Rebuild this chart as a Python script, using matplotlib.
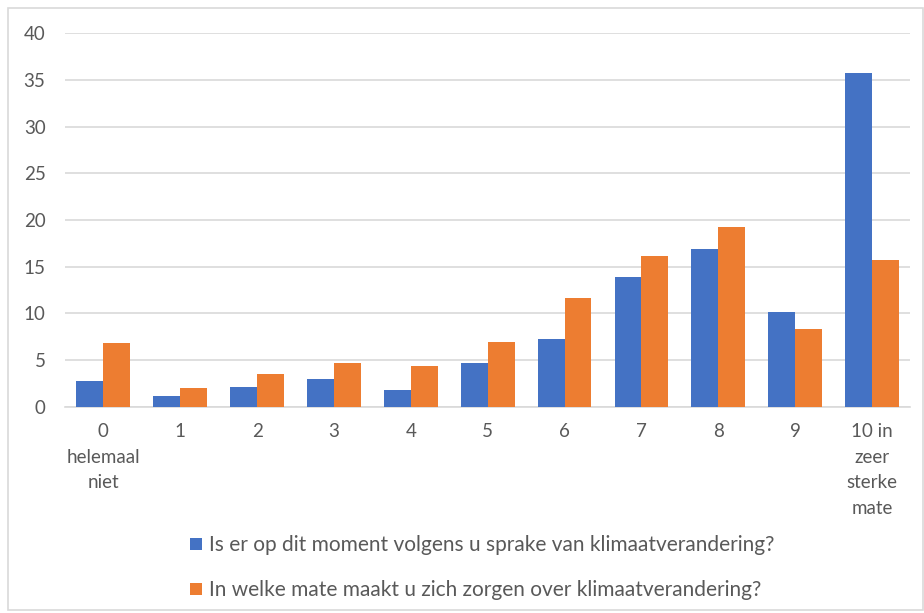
import numpy as np
import matplotlib
matplotlib.use('Agg')
import matplotlib.pyplot as plt
from matplotlib.patches import Rectangle

plt.rcParams['font.family'] = ['Lato', 'DejaVu Sans']

# 数据
categories = ['0\nhelemaal\nniet', '1', '2', '3', '4', '5', '6', '7', '8', '9',
              '10 in\nzeer\nsterke\nmate']
sprake = [2.8, 1.15, 2.1, 3.0, 1.8, 4.65, 7.3, 13.9, 16.9, 10.2, 35.8]
zorgen = [6.85, 2.0, 3.5, 4.7, 4.4, 6.95, 11.7, 16.1, 19.3, 8.3, 15.7]
labels = ['Is er op dit moment volgens u sprake van klimaatverandering?',
          'In welke mate maakt u zich zorgen over klimaatverandering?']

blue = '#4472C4'
orange = '#ED7D31'
grey_txt = '#595959'

fig = plt.figure(figsize=(9.24, 6.13), dpi=100)
ax = fig.add_axes([0.0703, 0.3365, 0.915, 0.609])

x = np.arange(len(categories))
w = 0.35
ax.bar(x - w / 2, sprake, w, color=blue, label=labels[0], zorder=3)
ax.bar(x + w / 2, zorgen, w, color=orange, label=labels[1], zorder=3)

ax.set_xlim(-0.5, len(categories) - 0.5)
ax.set_ylim(0, 40)
ax.set_yticks(range(0, 41, 5))
ax.set_xticks(x)
ax.set_xticklabels(categories, linespacing=1.6)
ax.tick_params(axis='both', length=0, labelsize=13.5, colors=grey_txt)
ax.tick_params(axis='x', pad=12)
ax.tick_params(axis='y', pad=14)
ax.grid(axis='y', color='#D9D9D9', linewidth=1.2, zorder=0)
for s in ['top', 'right', 'left']:
    ax.spines[s].set_visible(False)
ax.spines['bottom'].set_color('#D9D9D9')
ax.spines['bottom'].set_linewidth(1.2)

leg = fig.legend(loc='center', bbox_to_anchor=(0.522, 0.0735), ncol=1,
                 frameon=False, fontsize=15, labelspacing=1.2,
                 handlelength=0.55, handleheight=0.55, handletextpad=0.35)
for t in leg.get_texts():
    t.set_color(grey_txt)

# 外框
fig.patches.append(Rectangle((8 / 924, 3 / 613), 915 / 924, 602 / 613,
                             transform=fig.transFigure, fill=False,
                             edgecolor='#D9D9D9', linewidth=1.2))

plt.savefig('out.png', dpi=100)
